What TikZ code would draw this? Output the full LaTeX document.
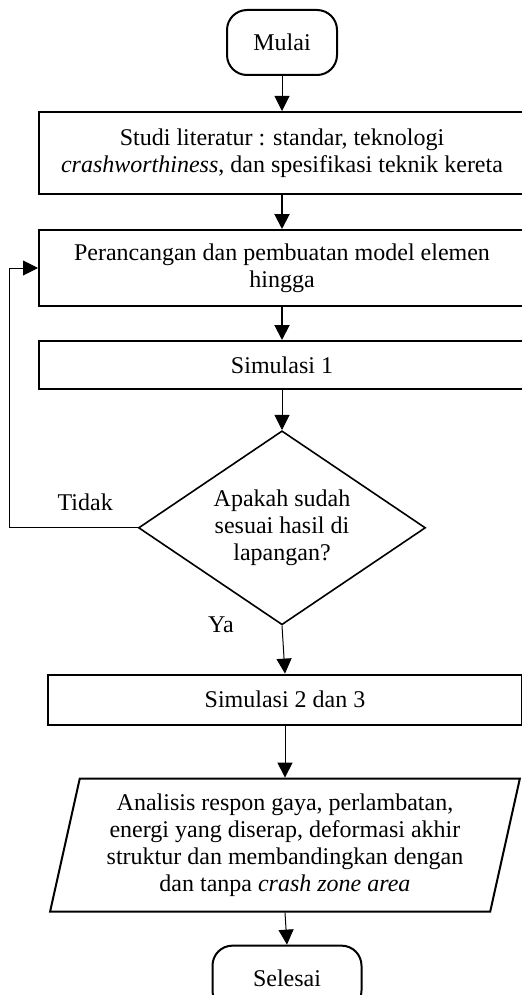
\documentclass[tikz,border=0pt]{standalone}
\usepackage{fontspec}
\setmainfont{Liberation Serif}
\usetikzlibrary{arrows.meta,positioning,shapes.geometric}

\begin{document}
\begin{tikzpicture}[
  x=0.5pt,y=-0.5pt,
  node distance=17pt,
  every node/.style={font=\fontsize{12}{13.6}\selectfont},
  term/.style={draw,line width=1pt,rounded corners=10pt,minimum width=55pt,minimum height=32.5pt},
  box/.style={draw,line width=1pt,minimum width=243pt,align=center,inner sep=2pt},
  cond/.style={diamond,draw,line width=0.8pt,minimum width=143.5pt,minimum height=97pt,align=center,inner sep=0pt,aspect=1.48},
  io/.style={trapezium,trapezium left angle=76,trapezium right angle=104,trapezium stretches=true,draw,line width=1pt,minimum width=235pt,minimum height=66.5pt,align=center,inner sep=0pt},
  ar/.style={-{Triangle[length=7.5pt,width=7.5pt]},line width=0.5pt},
  arb/.style={ar,line width=1pt},
]
\useasboundingbox (0,0) rectangle (521,995);

\node[term] (mulai) at (282,42.5) {Mulai};
\node[box,minimum height=41pt,below=17.5pt of mulai] (studi) {Studi literatur : standar, teknologi\\\textit{crashworthiness}, dan spesifikasi teknik kereta};
\node[box,minimum height=38pt,below=of studi] (model) {Perancangan dan pembuatan model elemen\\hingga};
\node[box,minimum height=24pt,below=16.5pt of model] (sim1) {Simulasi 1};
\node[cond,below=20pt of sim1] (cek) {Apakah sudah\\sesuai hasil di\\lapangan?};
\node[box,minimum width=237pt,minimum height=25pt,below=24pt of cek,xshift=1.5pt] (sim2) {Simulasi 2 dan 3};
\node[io,below=26pt of sim2] (analisis) {Analisis respon gaya, perlambatan,\\energi yang diserap, deformasi akhir\\struktur dan membandingkan dengan\\dan tanpa \textit{crash zone area}};
\node[term,minimum width=74.5pt,below=16pt of analisis,xshift=1pt] (selesai) {Selesai};
\node (ya) at (221,625) {Ya};

\draw[ar] (mulai) -- (studi);
\draw[arb] (studi) -- (model);
\draw[arb] (model) -- (sim1);
\draw[ar] (sim1) -- (cek);
\draw[ar] (cek.west) -- node[pos=0.41,above=5pt] (tidak) {Tidak} ++(-128,0) |- (model.west);
\draw[ar] (cek.south) -- (sim2.north);
\draw[ar] (sim2.south) -- (analisis.north);
\draw[ar] (analisis.south) -- (selesai.north);
\end{tikzpicture}
\end{document}
